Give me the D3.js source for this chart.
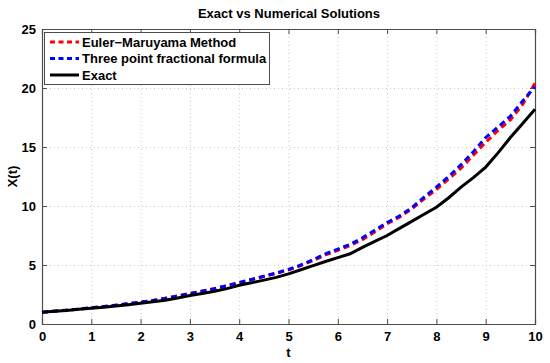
<!DOCTYPE html>
<html>
<head>
<meta charset="utf-8">
<script src="https://cdn.jsdelivr.net/npm/d3@7.9.0/dist/d3.min.js"></script>
<style>
  body { margin: 0; background: #fff; }
  svg { display: block; font-family: "Liberation Sans", Arial, sans-serif; }
</style>
</head>
<body>
<svg width="550" height="363"></svg>
<script>
// time grid
const tValues = [0, 0.25, 0.5, 0.75, 1, 1.25, 1.5, 1.75, 2, 2.25, 2.5, 2.75, 3, 3.25, 3.5, 3.75,
  4, 4.25, 4.5, 4.75, 5, 5.25, 5.5, 5.75, 6, 6.25, 6.5, 6.75, 7, 7.25, 7.5, 7.75,
  8, 8.25, 8.5, 8.75, 9, 9.25, 9.5, 9.75, 10];

// values
const eulerMaruyama = [1.00, 1.09, 1.17, 1.27, 1.37, 1.47, 1.59, 1.72, 1.85, 2.00, 2.18, 2.38, 2.60, 2.79, 3.00, 3.24,
  3.50, 3.76, 4.02, 4.30, 4.58, 4.95, 5.38, 5.85, 6.25, 6.65, 7.15, 7.80, 8.50, 9.05, 9.75, 10.60,
  11.40, 12.30, 13.20, 14.30, 15.40, 16.40, 17.30, 18.60, 20.40];
const threePoint = [1.00, 1.09, 1.17, 1.27, 1.38, 1.48, 1.60, 1.73, 1.86, 2.00, 2.17, 2.37, 2.58, 2.78, 3.00, 3.24,
  3.52, 3.78, 4.05, 4.32, 4.62, 5.00, 5.45, 5.95, 6.35, 6.75, 7.30, 7.95, 8.60, 9.15, 9.85, 10.75,
  11.60, 12.50, 13.50, 14.60, 15.80, 16.70, 17.60, 18.90, 20.10];
const exact = [1.00, 1.08, 1.15, 1.24, 1.33, 1.42, 1.52, 1.64, 1.76, 1.88, 2.02, 2.20, 2.42, 2.58, 2.78, 3.00,
  3.28, 3.50, 3.72, 3.95, 4.25, 4.60, 4.95, 5.30, 5.62, 5.95, 6.50, 7.00, 7.50, 8.10, 8.70, 9.30,
  9.90, 10.70, 11.60, 12.40, 13.30, 14.50, 15.80, 17.00, 18.20];

const xTicks = [0, 1, 2, 3, 4, 5, 6, 7, 8, 9, 10];
const yTicks = [0, 5, 10, 15, 20, 25];

const series = [
  { name: 'Euler\u2212Maruyama Method', values: eulerMaruyama, color: '#ff0000', dash: '6,4' },
  { name: 'Three point fractional formula', values: threePoint, color: '#0000ff', dash: '6,4' },
  { name: 'Exact', values: exact, color: '#000000', dash: null }
];

const plotLeft = 42, plotRight = 535, plotTop = 29, plotBottom = 324;

const x = d3.scaleLinear().domain([0, 10]).range([plotLeft, plotRight]);
const y = d3.scaleLinear().domain([0, 25]).range([plotBottom, plotTop]);

const svg = d3.select('svg');

// grid
const grid = svg.append('g')
  .attr('stroke', '#c8c8c8')
  .attr('stroke-width', 1)
  .attr('stroke-dasharray', '1,3');
xTicks.slice(1, -1).forEach(t => {
  grid.append('line')
    .attr('x1', x(t) + 0.5).attr('x2', x(t) + 0.5)
    .attr('y1', plotTop).attr('y2', plotBottom);
});
yTicks.slice(1, -1).forEach(v => {
  grid.append('line')
    .attr('x1', plotLeft).attr('x2', plotRight)
    .attr('y1', y(v) + 0.5).attr('y2', y(v) + 0.5);
});

// axes (ticks inward, MATLAB style)
const axisColor = '#4d4d4d';
const xAxis = svg.append('g')
  .attr('transform', `translate(0,${plotBottom})`)
  .call(d3.axisBottom(x).tickValues(xTicks).tickSize(-5).tickPadding(8).tickFormat(d3.format('d')));
const xAxisTop = svg.append('g')
  .attr('transform', `translate(0,${plotTop})`)
  .call(d3.axisTop(x).tickValues(xTicks).tickSize(-5).tickFormat(''));
const yAxis = svg.append('g')
  .attr('transform', `translate(${plotLeft},0)`)
  .call(d3.axisLeft(y).tickValues(yTicks).tickSize(-5).tickPadding(6).tickFormat(d3.format('d')));
const yAxisRight = svg.append('g')
  .attr('transform', `translate(${plotRight},0)`)
  .call(d3.axisRight(y).tickValues(yTicks).tickSize(-5).tickFormat(''));

[xAxis, xAxisTop, yAxis, yAxisRight].forEach(g => {
  g.select('.domain').attr('stroke', axisColor).attr('stroke-width', 1.2);
  g.selectAll('.tick line').attr('stroke', axisColor);
  g.selectAll('.tick text')
    .attr('fill', '#000')
    .style('font-size', '13px')
    .style('font-weight', 'bold')
    .style('font-family', '"Liberation Sans", Arial, sans-serif');
});

// lines
const line = d3.line()
  .x((d, i) => x(tValues[i]))
  .y(d => y(d));

series.forEach(s => {
  svg.append('path')
    .datum(s.values)
    .attr('d', line)
    .attr('fill', 'none')
    .attr('stroke', s.color)
    .attr('stroke-width', 3)
    .attr('stroke-dasharray', s.dash);
});

// title and labels
svg.append('text')
  .attr('x', 289)
  .attr('y', 18)
  .attr('text-anchor', 'middle')
  .style('font-size', '13px')
  .style('font-weight', 'bold')
  .text('Exact vs Numerical Solutions');

svg.append('text')
  .attr('x', (plotLeft + plotRight) / 2)
  .attr('y', 357)
  .attr('text-anchor', 'middle')
  .style('font-size', '13px')
  .style('font-weight', 'bold')
  .text('t');

svg.append('text')
  .attr('transform', `translate(17,${(plotTop + plotBottom) / 2}) rotate(-90)`)
  .attr('text-anchor', 'middle')
  .style('font-size', '13px')
  .style('font-weight', 'bold')
  .text('X(t)');

// legend
const legend = svg.append('g');
legend.append('rect')
  .attr('x', 44.5).attr('y', 32.5)
  .attr('width', 225).attr('height', 52)
  .attr('fill', '#fff')
  .attr('stroke', axisColor)
  .attr('stroke-width', 1);

series.forEach((s, i) => {
  const ly = 42 + i * 16.5;
  legend.append('line')
    .attr('x1', 50).attr('x2', 79)
    .attr('y1', ly).attr('y2', ly)
    .attr('stroke', s.color)
    .attr('stroke-width', 3)
    .attr('stroke-dasharray', s.dash ? '5,3.5' : null);
  legend.append('text')
    .attr('x', 82)
    .attr('y', ly + 4.5)
    .style('font-size', '13px')
    .style('font-weight', 'bold')
    .text(s.name);
});
</script>
</body>
</html>
